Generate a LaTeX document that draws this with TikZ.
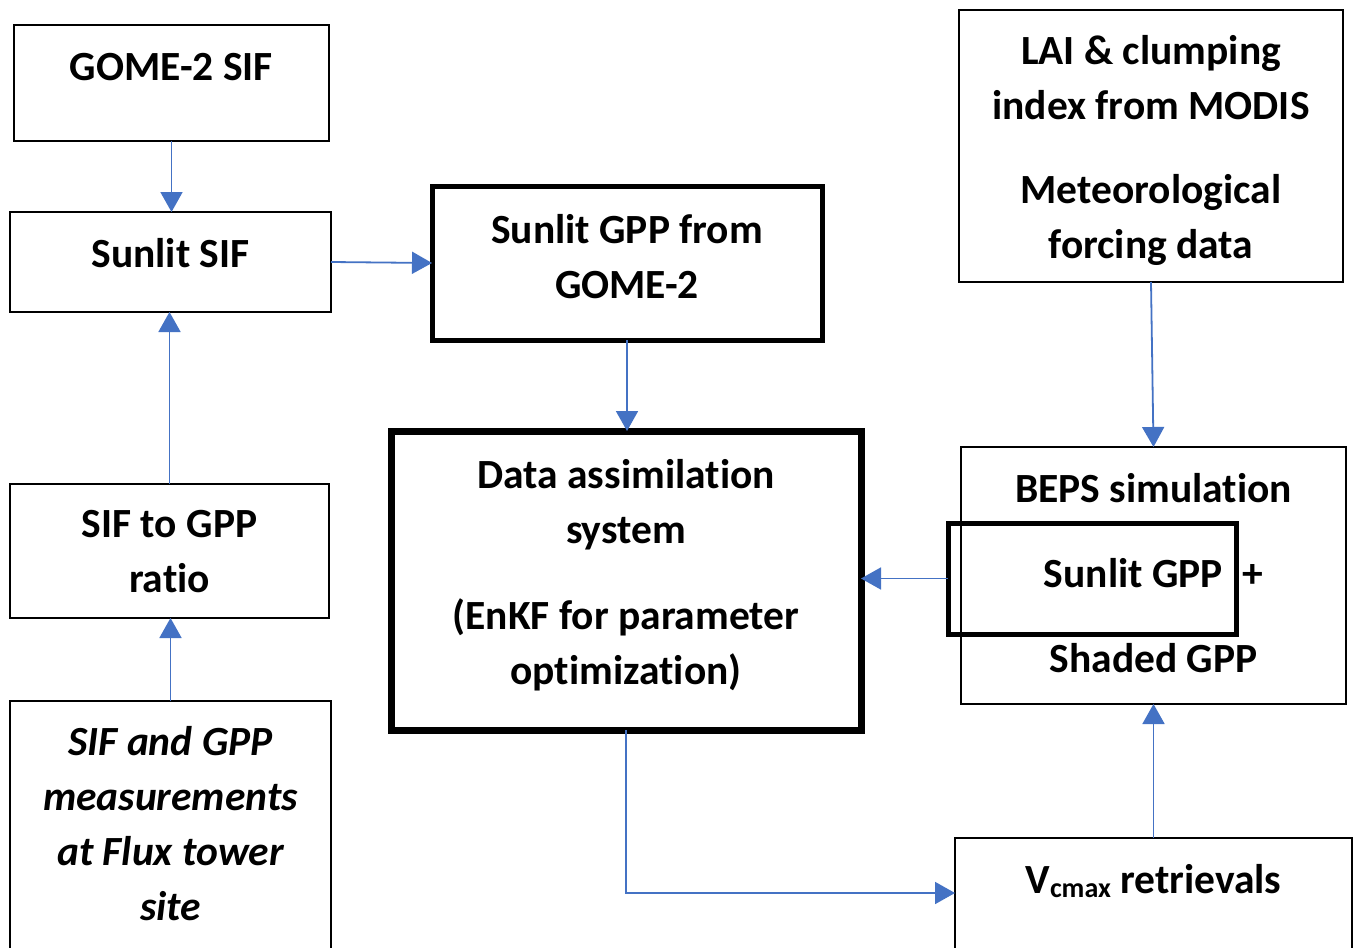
\documentclass[tikz,border=0pt]{standalone}
\usepackage{fontspec}
\setmainfont{Carlito}[Ligatures=CommonOff]
\usetikzlibrary{arrows.meta}
\definecolor{flowblue}{HTML}{4472C4}
\begin{document}
\begin{tikzpicture}[x=1pt,y=-1pt,
  box/.style={draw, line width=2.5pt, inner sep=0pt, outer sep=0pt},
  thickbox/.style={box, line width=5pt},
  heavybox/.style={box, line width=7pt},
  lbl/.style={anchor=base, inner sep=0pt, font=\fontsize{41.5}{48}\selectfont\bfseries},
  ilbl/.style={lbl, font=\fontsize{41.5}{48}\selectfont\bfseries\itshape},
  arr/.style={draw=flowblue, line width=1.8pt, -{Triangle[length=20pt,width=22pt]}}]
\clip (0,0) rectangle (1358,948);
\fill[white] (0,0) rectangle (1358,948);

% boxes
\node[box, minimum width=315pt, minimum height=116pt] (gome) at (171.5,83) {};
\node[box, minimum width=321pt, minimum height=100pt] (ssif) at (170.5,262) {};
\node[box, minimum width=319pt, minimum height=134pt] (ratio) at (169.5,551) {};
\node[box, minimum width=321pt, minimum height=258pt] (meas) at (170.5,830) {};
\node[thickbox, minimum width=390pt, minimum height=154pt] (sgpp) at (627,263) {};
\node[heavybox, minimum width=470pt, minimum height=299pt] (da) at (626,580.5) {};
\node[box, minimum width=384pt, minimum height=272pt] (lai) at (1151,146) {};
\node[box, minimum width=385pt, minimum height=257pt] (beps) at (1153.5,575.5) {};
\node[thickbox, minimum width=288pt, minimum height=111pt] (inner) at (1092,578.5) {};
\node[box, minimum width=397pt, minimum height=122pt] (vc) at (1153.5,899) {};

% texts
\node[lbl] (t1) at (171.5,80) {GOME-2 SIF};
\node[lbl] (t2) at (170.5,267) {Sunlit SIF};
\node[lbl] (t3a) at (169.5,537) {SIF to GPP};
\node[lbl] (t3b) at (169.5,592) {ratio};
\node[ilbl] (t4a) at (170.5,755) {SIF and GPP};
\node[ilbl] (t4b) at (170.5,810) {measurements};
\node[ilbl] (t4c) at (170.5,865) {at Flux tower};
\node[ilbl] (t4d) at (170.5,920) {site};
\node[lbl] (t5a) at (627,243) {Sunlit GPP from};
\node[lbl] (t5b) at (627,298) {GOME-2};
\node[lbl] (t6a) at (626,488) {Data assimilation};
\node[lbl] (t6b) at (626,543) {system};
\node[lbl] (t6c) at (626,629) {(EnKF for parameter};
\node[lbl] (t6d) at (626,684) {optimization)};
\node[lbl] (t7a) at (1151,64) {LAI \& clumping};
\node[lbl] (t7b) at (1151,119) {index from MODIS};
\node[lbl] (t7c) at (1151,203) {Meteorological};
\node[lbl] (t7d) at (1151,258) {forcing data};
\node[lbl] (t8a) at (1153.5,502) {BEPS simulation};
\node[lbl, anchor=base east] (t8b) at (1223,587) {Sunlit GPP};
\node[lbl] (t8c) at (1253,587) {+};
\node[lbl] (t8d) at (1153.5,672) {Shaded GPP};
\node[lbl] (t9) at (1153.5,893) {V\raisebox{-0.2ex}{\fontsize{28}{28}\selectfont cmax} retrievals};

% connectors
\draw[arr] (gome.south) -- (gome.south |- ssif.north);
\draw[arr] (ssif.east) -- (sgpp.west);
\draw[arr] (ratio.north) -- (ratio.north |- ssif.south);
\draw[arr] (meas.north) -- (meas.north |- ratio.south);
\draw[arr] (sgpp.south) -- (sgpp.south |- da.north);
\draw[arr] (lai.south) -- (beps.north);
\draw[arr] (inner.west) -- (inner.west -| da.east);
\draw[arr] (da.south) |- ([yshift=6pt]vc.west);
\draw[arr] (vc.north) -- (beps.south);
\end{tikzpicture}
\end{document}
